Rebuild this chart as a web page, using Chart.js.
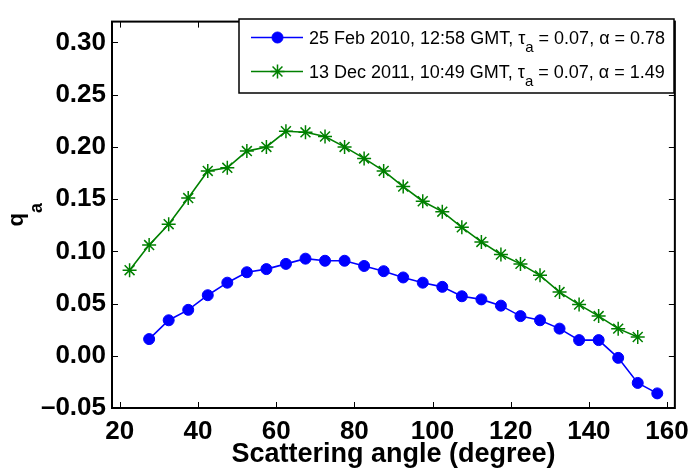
<!DOCTYPE html>
<html>
<head>
<meta charset="utf-8">
<script src="https://cdn.jsdelivr.net/npm/chart.js@4.4.1/dist/chart.umd.min.js"></script>
<style>
  html, body { margin: 0; padding: 0; background: #fff; }
  canvas { display: block; }
</style>
</head>
<body>
<canvas id="chart" width="697" height="474"></canvas>
<script>
// scattering angle (degree) and q_a for the two days
const angleFeb2010 = [27.5, 32.5, 37.5, 42.5, 47.5, 52.5, 57.5, 62.5, 67.5, 72.5, 77.5, 82.5, 87.5, 92.5,
  97.5, 102.5, 107.5, 112.5, 117.5, 122.5, 127.5, 132.5, 137.5, 142.5, 147.5, 152.5, 157.5]
const qaFeb2010 = [0.016, 0.034, 0.044, 0.058, 0.070, 0.080, 0.083, 0.088, 0.093, 0.091, 0.091, 0.086, 0.081, 0.075,
  0.070, 0.066, 0.057, 0.054, 0.048, 0.038, 0.034, 0.026, 0.015, 0.015, -0.002, -0.026, -0.036]

const angleDec2011 = [22.5, 27.5, 32.5, 37.5, 42.5, 47.5, 52.5, 57.5, 62.5, 67.5, 72.5, 77.5, 82.5, 87.5,
  92.5, 97.5, 102.5, 107.5, 112.5, 117.5, 122.5, 127.5, 132.5, 137.5, 142.5, 147.5, 152.5]
const qaDec2011 = [0.082, 0.106, 0.126, 0.151, 0.177, 0.180, 0.196, 0.200, 0.215, 0.214, 0.210, 0.200, 0.189, 0.177,
  0.162, 0.148, 0.138, 0.123, 0.109, 0.097, 0.088, 0.077, 0.061, 0.049, 0.038, 0.026, 0.018]

const xTicks = [20, 40, 60, 80, 100, 120, 140, 160]
const yTicks = [-0.05, 0, 0.05, 0.10, 0.15, 0.20, 0.25, 0.30]

// legend rows: text before the subscript, subscript, text after it
const legendRows = [
  ['25 Feb 2010, 12:58 GMT, \u03c4', 'a', ' = 0.07, \u03b1 = 0.78'],
  ['13 Dec 2011, 10:49 GMT, \u03c4', 'a', ' = 0.07, \u03b1 = 1.49']
]

const FONT = '"Liberation Sans", Arial, Helvetica, sans-serif'
const BLUE = '#0000ff', GREEN = '#008000'

function toPoints(xs, ys){
  return xs.map((x, i) => ({x: x, y: ys[i]}))
}

// box, inward ticks on all four sides, axis titles and legend
const matlabAxes = {
  id: 'matlabAxes',
  afterDraw(chart){
    const c = chart.ctx, a = chart.chartArea
    const xs = chart.scales.x, ys = chart.scales.y
    const tl = 6
    c.save()
    c.strokeStyle = '#000'
    c.lineWidth = 1
    c.beginPath()
    xTicks.forEach(v => {
      const px = Math.round(xs.getPixelForValue(v)) + 0.5
      c.moveTo(px, a.bottom); c.lineTo(px, a.bottom - tl)
      c.moveTo(px, a.top); c.lineTo(px, a.top + tl)
    })
    yTicks.forEach(v => {
      const py = Math.round(ys.getPixelForValue(v)) + 0.5
      c.moveTo(a.left, py); c.lineTo(a.left + tl, py)
      c.moveTo(a.right, py); c.lineTo(a.right - tl, py)
    })
    c.stroke()
    c.lineWidth = 2
    c.strokeRect(a.left, a.top, a.right - a.left, a.bottom - a.top)

    // x title
    c.fillStyle = '#000'
    c.font = 'bold 27px ' + FONT
    c.textAlign = 'center'
    c.textBaseline = 'alphabetic'
    c.fillText('Scattering angle (degree)', (a.left + a.right) / 2, 462)

    // y title: q with subscript a, rotated
    c.save()
    c.translate(23, (a.top + a.bottom) / 2)
    c.rotate(-Math.PI / 2)
    c.font = 'bold 22px ' + FONT
    const qw = c.measureText('q').width
    c.font = 'bold 18px ' + FONT
    const aw = c.measureText('a').width
    const start = -(qw + aw) / 2
    c.textAlign = 'left'
    c.font = 'bold 22px ' + FONT
    c.fillText('q', start, 0)
    c.font = 'bold 18px ' + FONT
    c.fillText('a', start + qw, 19)
    c.restore()

    // legend
    const box = {x: 239, y: 19, w: 435, h: 74}
    c.fillStyle = '#fff'
    c.fillRect(box.x, box.y, box.w, box.h)
    c.lineWidth = 1.5
    c.strokeStyle = '#000'
    c.strokeRect(box.x, box.y, box.w, box.h)
    const rowY = [37.5, 71.5]
    const sets = chart.data.datasets
    legendRows.forEach((row, i) => {
      const ds = sets[i], y = rowY[i]
      c.strokeStyle = ds.borderColor
      c.lineWidth = ds.borderWidth
      c.beginPath()
      c.moveTo(251, y); c.lineTo(303, y)
      c.stroke()
      c.fillStyle = ds.pointBackgroundColor
      c.strokeStyle = ds.pointBorderColor
      c.lineWidth = ds.pointBorderWidth
      Chart.helpers.drawPoint(c, {pointStyle: ds.pointStyle, radius: ds.pointRadius, borderWidth: ds.pointBorderWidth, rotation: 0}, 277.5, y)

      c.fillStyle = '#000'
      c.textAlign = 'left'
      let tx = 309
      const base = y + 6
      c.font = '18px ' + FONT
      c.fillText(row[0], tx, base)
      tx += c.measureText(row[0]).width
      c.font = '15px ' + FONT
      c.fillText(row[1], tx, base + 8)
      tx += c.measureText(row[1]).width
      c.font = '18px ' + FONT
      c.fillText(row[2], tx, base)
    })
    c.restore()
  }
}

const tickFont = {family: FONT, size: 26, weight: 'bold'}

new Chart(document.getElementById('chart'), {
  type: 'line',
  data: {
    datasets: [{
      label: '25 Feb 2010',
      data: toPoints(angleFeb2010, qaFeb2010),
      borderColor: BLUE,
      backgroundColor: BLUE,
      borderWidth: 1.6,
      pointStyle: 'circle',
      pointRadius: 5.5,
      pointBackgroundColor: BLUE,
      pointBorderColor: BLUE,
      pointBorderWidth: 1
    }, {
      label: '13 Dec 2011',
      data: toPoints(angleDec2011, qaDec2011),
      borderColor: GREEN,
      backgroundColor: GREEN,
      borderWidth: 1.6,
      pointStyle: 'star',
      pointRadius: 7,
      pointBackgroundColor: GREEN,
      pointBorderColor: GREEN,
      pointBorderWidth: 1.5
    }]
  },
  options: {
    responsive: false,
    animation: false,
    layout: {padding: {left: 0, top: 10, right: 19, bottom: 0}},
    plugins: {legend: {display: false}, tooltip: {enabled: false}},
    scales: {
      x: {
        type: 'linear',
        min: 18,
        max: 162,
        grid: {display: false, drawTicks: false},
        border: {display: false},
        afterBuildTicks: s => { s.ticks = xTicks.map(v => ({value: v})) },
        afterFit: s => { s.height = 66 },
        ticks: {font: tickFont, color: '#000', padding: 8, maxRotation: 0, autoSkip: false}
      },
      y: {
        min: -0.05,
        max: 0.32,
        grid: {display: false, drawTicks: false},
        border: {display: false},
        afterBuildTicks: s => { s.ticks = yTicks.map(v => ({value: v})) },
        afterFit: s => { s.width = 112 },
        ticks: {
          font: tickFont, color: '#000', padding: 6, autoSkip: false,
          callback: v => (v < 0 ? '\u2013' : '') + Math.abs(v).toFixed(2)
        }
      }
    }
  },
  plugins: [matlabAxes]
})
</script>
</body>
</html>
